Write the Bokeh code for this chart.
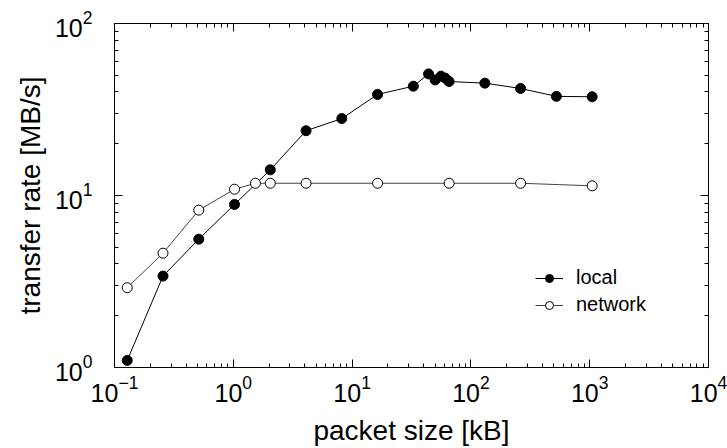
from bokeh.plotting import figure
from bokeh.models import (FixedTicker, LogAxis, Legend, LegendItem,
                          CustomJSTickFormatter, LogTickFormatter)
from bokeh.embed import file_html
from bokeh.resources import INLINE

# ---- data ----
local_x = [0.128, 0.256, 0.512, 1.024, 2.048, 4.096, 8.192, 16.384, 32.768,
           44.0, 50.0, 56.0, 61.0, 65.536, 131.072, 262.144, 524.288, 1048.576]
local_y = [1.10, 3.4, 5.57, 8.87, 14.1, 23.8, 28.0, 38.7, 43.2,
           50.9, 47.0, 49.4, 48.1, 46.0, 45.0, 41.9, 37.7, 37.5]

network_x = [0.128, 0.256, 0.512, 1.024, 1.536, 2.048, 4.096, 16.384,
             65.536, 262.144, 1048.576]
network_y = [2.91, 4.62, 8.22, 10.88, 11.78, 11.78, 11.78, 11.78,
             11.78, 11.78, 11.38]

x_exponents = [-1, 0, 1, 2, 3, 4]
y_exponents = [0, 1, 2]
x_label = "packet size [kB]"
y_label = "transfer rate [MB/s]"
series_names = ["local", "network"]

FONT = "Liberation Sans"

x_ticks = [10.0 ** e for e in x_exponents]
y_ticks = [10.0 ** e for e in y_exponents]
x_minor = [m * 10.0 ** e for e in x_exponents[:-1] for m in range(2, 10)]
y_minor = [m * 10.0 ** e for e in y_exponents[:-1] for m in range(2, 10)]

p = figure(width=727, height=448, x_axis_type="log", y_axis_type="log",
           x_range=(x_ticks[0], x_ticks[-1]), y_range=(y_ticks[0], y_ticks[-1]),
           output_backend="svg", toolbar_location=None,
           min_border_left=114, min_border_right=19,
           min_border_top=23, min_border_bottom=79)
p.grid.visible = False
p.outline_line_color = "black"
p.outline_line_width = 1
p.background_fill_color = "white"
p.border_fill_color = "white"

blank = CustomJSTickFormatter(code="return ''")


def style_axis(ax, ticks, minor, labels):
    ax.ticker = FixedTicker(ticks=ticks, minor_ticks=minor)
    ax.formatter = LogTickFormatter() if labels else blank
    ax.major_label_standoff = 0
    ax.major_label_text_font = FONT
    ax.major_label_text_font_size = "25px"
    ax.major_label_text_color = "black"
    ax.major_tick_in = 8
    ax.major_tick_out = 0
    ax.minor_tick_in = 4
    ax.minor_tick_out = 0
    ax.axis_line_color = "black"
    ax.major_tick_line_color = "black"
    ax.minor_tick_line_color = "black"
    ax.axis_label_text_font = FONT
    ax.axis_label_text_font_size = "28px"
    ax.axis_label_text_font_style = "normal"
    ax.axis_label_text_color = "black"


style_axis(p.xaxis[0], x_ticks, x_minor, True)
style_axis(p.yaxis[0], y_ticks, y_minor, True)
p.xaxis[0].axis_label = x_label
p.yaxis[0].axis_label = y_label
p.xaxis[0].major_label_standoff = 7
p.yaxis[0].major_label_standoff = 22
p.xaxis[0].axis_label_standoff = 10
p.yaxis[0].axis_label_standoff = 6

top = LogAxis()
style_axis(top, x_ticks, x_minor, False)
p.add_layout(top, "above")
right = LogAxis()
style_axis(right, y_ticks, y_minor, False)
p.add_layout(right, "right")

# ---- series ----
l1 = p.line(local_x, local_y, line_color="black", line_width=1)
s1 = p.scatter(local_x, local_y, size=10, fill_color="black", line_color="black")
l2 = p.line(network_x, network_y, line_color="#444444", line_width=1)
s2 = p.scatter(network_x, network_y, size=10, fill_color="white",
               line_color="black", line_width=1)

legend = Legend(items=[LegendItem(label=series_names[0], renderers=[l1, s1]),
                       LegendItem(label=series_names[1], renderers=[l2, s2])],
                location=(421, 51), padding=0, margin=0, spacing=4,
                glyph_width=28, glyph_height=20, label_height=20,
                label_standoff=13, border_line_color=None,
                background_fill_alpha=0,
                label_text_font=FONT, label_text_font_size="20px",
                label_text_color="black")
p.add_layout(legend)

open("out.html", "w").write(file_html(p, INLINE))
